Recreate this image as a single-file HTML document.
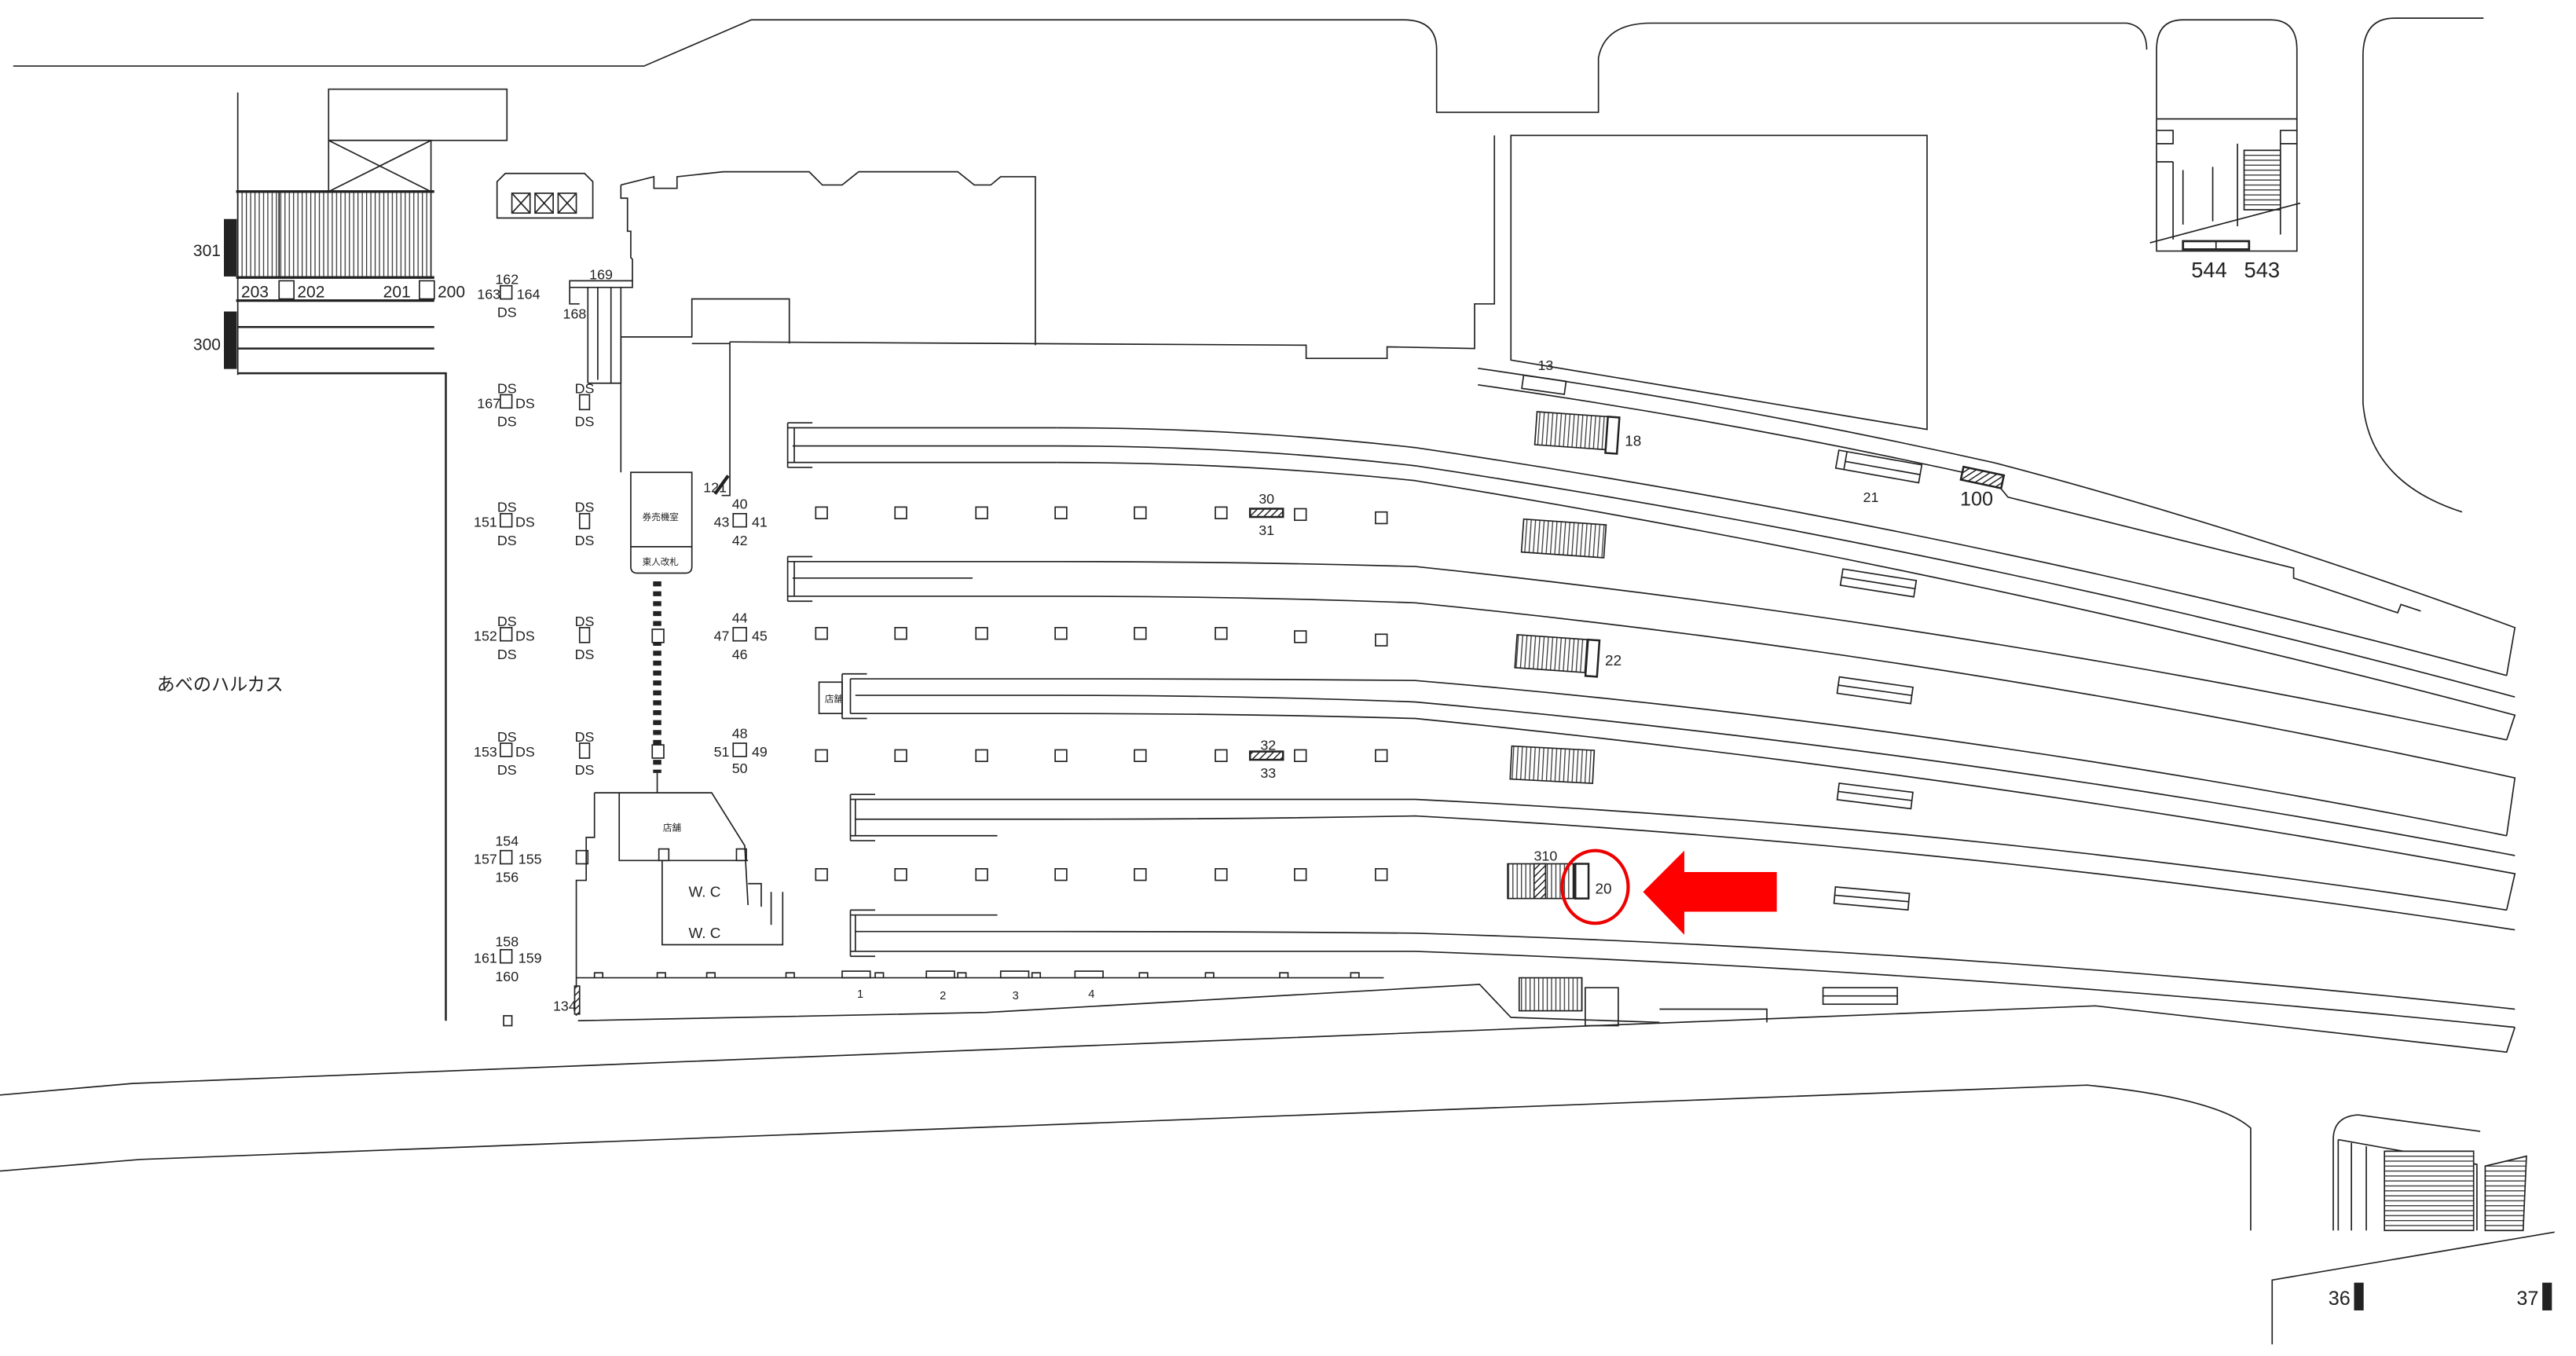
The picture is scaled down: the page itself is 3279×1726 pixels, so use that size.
<!DOCTYPE html>
<html><head><meta charset="utf-8"><style>
html,body{margin:0;padding:0;background:#fff;}
svg{display:block;}
text{font-family:"Liberation Sans","Noto Sans CJK JP",sans-serif;fill:#222;}
</style></head><body>
<svg width="3279" height="1726" viewBox="0 0 1560 821" preserveAspectRatio="none" xmlns="http://www.w3.org/2000/svg">
<defs>
<pattern id="hat" width="3" height="3" patternUnits="userSpaceOnUse" patternTransform="rotate(45)"><rect width="3" height="3" fill="#fff"/><line x1="0" y1="0" x2="0" y2="3" stroke="#222" stroke-width="1.4"/></pattern>
<pattern id="vst" width="2.6" height="10" patternUnits="userSpaceOnUse"><rect width="2.6" height="10" fill="#fff"/><line x1="1" y1="0" x2="1" y2="10" stroke="#333" stroke-width="0.6"/></pattern>
<pattern id="hst" width="10" height="3" patternUnits="userSpaceOnUse"><rect width="10" height="3" fill="#fff"/><line x1="0" y1="1" x2="10" y2="1" stroke="#333" stroke-width="0.6"/></pattern>
</defs>
<g fill="none" stroke="#222" stroke-width="0.8">
<!-- top outline -->
<path d="M8,40 L390,40 L455,12 L850,12 Q870,12 870,30 L870,68 L968,68 L968,35 Q972,14 1000,14 L1288,14 Q1300,16 1300,30"/>
<!-- top right box -->
<path d="M1306,152 L1306,30 Q1306,12 1322,12 L1375,12 Q1391,12 1391,30 L1391,152 Z"/>
<path d="M1306,72 L1391,72 M1306,79 h10 v8 h-10 M1391,79 h-10 v8 h10 M1306,98 h10 M1316,98 V145 M1355,87 v50 M1381,87 v55"/>
<rect x="1359" y="91" width="22" height="36" fill="url(#hst)"/>
<path d="M1302,147 L1393,123"/>
<path d="M1322,103 v33 M1340,101 v33"/>
<rect x="1322" y="146" width="40" height="5" stroke-width="1.3"/><line x1="1342" y1="146" x2="1342" y2="151"/>
<path d="M1504,11 L1450,11 Q1431,11 1431,34 L1431,244 Q1435,292 1491,310"/>
<!-- left structure -->
<path d="M144,56 L144,227"/>
<rect x="199" y="54" width="108" height="31"/>
<rect x="199" y="85" width="62" height="31"/>
<path d="M199,85 L261,116 M261,85 L199,116"/>
<rect x="144" y="116" width="117" height="52" fill="url(#vst)"/>
<line x1="169" y1="116" x2="169" y2="168"/>
<path d="M143,116 H263 M143,168 H263 M143,182 H263" stroke-width="1.6"/>
<path d="M144,198 H263 M144,211 H263 M144,226 H270 V618" stroke-width="1.2"/>
<rect x="169" y="170" width="9" height="11"/><rect x="254" y="170" width="9" height="11"/>
<rect x="136" y="133" width="7" height="34" fill="#222"/><rect x="136" y="189" width="7" height="34" fill="#222"/>
<!-- EV box -->
<path d="M301,132 V110 L306,105 H354 L359,110 V132 Z"/>
<rect x="310" y="117" width="11" height="12"/><rect x="324" y="117" width="11" height="12"/><rect x="338" y="117" width="11" height="12"/>
<path d="M310,117 l11,12 M321,117 l-11,12 M324,117 l11,12 M335,117 l-11,12 M338,117 l11,12 M349,117 l-11,12"/>
<!-- center building -->
<path d="M376,112 L376,120 L380,120 L380,140 L382,140 L382,156 L383,157 L383,170"/>
<path d="M376,112 L396,107 L396,114 L410,114 L410,107 L438,104 L490,104 L498,112 L510,112 L520,104 L580,104 L590,112 L600,112 L606,107 L627,107 L627,209"/>
<path d="M345,170 H383 V174 H345 Z M345,174 V184 H351"/>
<path d="M356,174 V232 M362,174 V230 M370,174 V232 M376,174 V232 M356,232 H376"/>
<path d="M376,204 H419 V181 H478 V208 M376,204 V286 M442,207 V300 L437,300 M419,208 H442"/>
<path d="M442,207 L791,209 L791,217 L840,217 L840,210 L893,211 L893,184 L905,184 L905,82"/>
<path d="M915,82 H1167 V260 L915,218 Z"/>
<!-- gate block -->
<path d="M382,286 H419 V343 Q419,347 415,347 H386 Q382,347 382,343 Z M382,331 H419"/>
<line x1="433" y1="299" x2="441" y2="288" stroke-width="2"/>
<line x1="398" y1="352" x2="398" y2="468" stroke-width="5" stroke-dasharray="3,3"/>
<rect x="395" y="381" width="7" height="8" fill="#fff"/><rect x="395" y="451" width="7" height="8" fill="#fff"/>
<line x1="398" y1="468" x2="398" y2="480"/>
<!-- shop / WC -->
<path d="M360,480 H431 L451,512 L453,548 M360,480 V507 H355 V533 H349 V615 M375,480 V521 H453 M401,521 V572 H474 V540 M453,535 h8 v14 M467,540 v20"/>
<rect x="349" y="515" width="7" height="8"/><rect x="399" y="514" width="6" height="7"/><rect x="446" y="514" width="6" height="7"/>
<!-- platform edge bottom -->
<path d="M349,592 H838"/>
<path d="M360,592 v-3 h5 v3 M398,592 v-3 h5 v3 M428,592 v-3 h5 v3 M476,592 v-3 h5 v3 M530,592 v-3 h5 v3 M580,592 v-3 h5 v3 M625,592 v-3 h5 v3 M690,592 v-3 h5 v3 M730,592 v-3 h5 v3 M775,592 v-3 h5 v3 M818,592 v-3 h5 v3"/>
<rect x="510" y="588" width="17" height="4"/><rect x="561" y="588" width="17" height="4"/><rect x="606" y="588" width="17" height="4"/><rect x="651" y="588" width="17" height="4"/>
<rect x="348" y="597" width="3" height="17" fill="url(#hat)"/>
<path d="M350,618 L597,613 L896,596 L915,616 L1005,619 M960,598 H980 V621 H960 Z M1005,611 H1070 V619"/>
<rect x="920" y="592" width="38" height="20" fill="url(#vst)"/>
<rect x="1104" y="598" width="45" height="10"/><line x1="1104" y1="603" x2="1149" y2="603"/>
<!-- road -->
<path d="M0,663 L80,656 L1269,609 L1518,637 L1523,622"/>
<path d="M0,709 L85,702 L1264,657 Q1343,665 1363,683 L1363,745"/>
<path d="M1376,814 L1376,775 L1547,746"/>
<path d="M1413,745 V690 Q1413,676 1428,675 L1502,685 M1416,690 L1500,705 V745 M1416,690 V745 M1424,692 V745 M1433,694 V745"/>
<rect x="1444" y="697" width="54" height="48" fill="url(#hst)"/>
<path d="M1505,706 L1530,700 L1528,745 L1505,745 Z" fill="url(#hst)"/>
<rect x="1426" y="777" width="5" height="16" fill="#222"/><rect x="1540" y="777" width="5" height="16" fill="#222"/>
<!-- top platform wall -->
<path d="M895,223 Q1050,245 1207,280 Q1360,320 1523,380 L1518,409"/>
<path d="M895,233 Q1050,255 1207,290 L1216,301 L1389,344 L1389,350 L1452,371 L1454,366 L1466,370"/>
<rect x="922" y="229" width="26" height="8" transform="rotate(8 935 233)"/>
<!-- tracks -->
<path d="M640,259 Q750,259 857,271 Q1190,320 1518,409"/>
<path d="M480,270 L640,270 Q750,270 857,282 Q1190,332 1523,422"/>
<path d="M640,280 Q750,280 857,291 Q1190,345 1523,433 L1518,448"/>
<path d="M477,259 H640 M477,280 H640 M477,256 V283 M477,256 H492 M477,283 H492 M481,259 V280"/>
<path d="M477,340 H640 Q750,340 857,343 Q1190,378 1518,448"/>
<path d="M480,350 H589"/>
<path d="M477,361 H640 Q750,361 857,365 Q1190,398 1523,471 L1518,506"/>
<path d="M477,337 V364 M477,337 H492 M477,364 H492 M481,340 V361"/>
<path d="M515,411 H640 Q750,411 857,412 Q1190,440 1518,506"/>
<path d="M518,421 H640 Q750,421 857,425 Q1190,455 1523,518"/>
<path d="M515,432 H640 Q750,432 857,435 Q1190,468 1523,529 L1518,551"/>
<path d="M510,408 V435 M510,408 H525 M510,435 H525 M515,411 V432"/>
<rect x="496" y="413" width="14" height="19"/>
<path d="M515,484 H640 Q750,484 857,484 Q1190,500 1518,551"/>
<path d="M518,496 H640 Q750,496 857,494 Q1190,512 1523,563"/>
<path d="M515,506 H604"/>
<path d="M515,481 V509 M515,481 H530 M515,509 H530 M518,484 V506"/>
<path d="M515,554 H604"/>
<path d="M518,564 H640 Q750,564 857,565 Q1190,575 1523,611"/>
<path d="M515,576 H640 Q750,576 857,576 Q1190,588 1523,622"/>
<path d="M515,551 V579 M515,551 H530 M515,579 H530 M518,554 V576"/>
<!-- columns -->
<g>
<rect x="494" y="307" width="7" height="7"/><rect x="542" y="307" width="7" height="7"/><rect x="591" y="307" width="7" height="7"/><rect x="639" y="307" width="7" height="7"/><rect x="687" y="307" width="7" height="7"/><rect x="736" y="307" width="7" height="7"/><rect x="784" y="308" width="7" height="7"/><rect x="833" y="310" width="7" height="7"/>
<rect x="494" y="380" width="7" height="7"/><rect x="542" y="380" width="7" height="7"/><rect x="591" y="380" width="7" height="7"/><rect x="639" y="380" width="7" height="7"/><rect x="687" y="380" width="7" height="7"/><rect x="736" y="380" width="7" height="7"/><rect x="784" y="382" width="7" height="7"/><rect x="833" y="384" width="7" height="7"/>
<rect x="494" y="454" width="7" height="7"/><rect x="542" y="454" width="7" height="7"/><rect x="591" y="454" width="7" height="7"/><rect x="639" y="454" width="7" height="7"/><rect x="687" y="454" width="7" height="7"/><rect x="736" y="454" width="7" height="7"/><rect x="784" y="454" width="7" height="7"/><rect x="833" y="454" width="7" height="7"/>
<rect x="494" y="526" width="7" height="7"/><rect x="542" y="526" width="7" height="7"/><rect x="591" y="526" width="7" height="7"/><rect x="639" y="526" width="7" height="7"/><rect x="687" y="526" width="7" height="7"/><rect x="736" y="526" width="7" height="7"/><rect x="784" y="526" width="7" height="7"/><rect x="833" y="526" width="7" height="7"/>
</g>
<rect x="757" y="308" width="20" height="5" fill="url(#hat)" stroke-width="1.2"/>
<rect x="757" y="455" width="20" height="5" fill="url(#hat)" stroke-width="1.2"/>
<!-- small posts -->
<g>
<rect x="303" y="173" width="7" height="8"/><rect x="303" y="239" width="7" height="8"/><rect x="303" y="311" width="7" height="8"/><rect x="303" y="380" width="7" height="8"/><rect x="303" y="450" width="7" height="8"/><rect x="303" y="515" width="7" height="8"/><rect x="303" y="575" width="7" height="8"/><rect x="305" y="615" width="5" height="6"/>
<rect x="351" y="239" width="6" height="9"/><rect x="351" y="311" width="6" height="9"/><rect x="351" y="380" width="6" height="9"/><rect x="351" y="450" width="6" height="9"/>
<rect x="444" y="311" width="8" height="8"/><rect x="444" y="380" width="8" height="8"/><rect x="444" y="450" width="8" height="8"/>
</g>
<!-- stairs right -->
<g transform="rotate(4 955 262)"><rect x="930" y="251" width="43" height="20" fill="url(#vst)"/><rect x="973" y="251" width="7" height="22" stroke-width="1.2"/></g>
<rect x="922" y="316" width="50" height="20" fill="url(#vst)" transform="rotate(4 947 326)"/>
<g transform="rotate(4 943 396)"><rect x="918" y="386" width="43" height="20" fill="url(#vst)"/><rect x="961" y="386" width="7" height="22" stroke-width="1.2"/></g>
<rect x="915" y="453" width="50" height="20" fill="url(#vst)" transform="rotate(3 940 463)"/>
<rect x="913" y="523" width="40" height="21" fill="url(#vst)"/>
<rect x="929" y="523" width="7" height="21" fill="url(#hat)"/>
<rect x="954" y="523" width="8" height="21" stroke-width="1.2"/>
<!-- benches -->
<g transform="rotate(10 1138 284)"><rect x="1112" y="277" width="51" height="11"/><line x1="1117" y1="277" x2="1117" y2="288"/><line x1="1117" y1="283" x2="1163" y2="283"/></g>
<g transform="rotate(9 1138 353)"><rect x="1115" y="348" width="45" height="10"/><line x1="1115" y1="353" x2="1160" y2="353"/></g>
<g transform="rotate(8 1136 418)"><rect x="1113" y="413" width="45" height="10"/><line x1="1113" y1="418" x2="1158" y2="418"/></g>
<g transform="rotate(7 1136 482)"><rect x="1113" y="477" width="45" height="10"/><line x1="1113" y1="482" x2="1158" y2="482"/></g>
<g transform="rotate(5 1134 544)"><rect x="1111" y="539" width="45" height="10"/><line x1="1111" y1="544" x2="1156" y2="544"/></g>
<rect x="1188" y="285" width="25" height="8" fill="url(#hat)" stroke-width="1.2" transform="rotate(12 1200 289)"/>
</g>
<!-- red marker -->
<ellipse cx="966" cy="537" rx="20" ry="22" fill="none" stroke="#e00" stroke-width="2"/>
<path d="M995,540 L1020,515 L1020,528 L1076,528 L1076,552 L1020,552 L1020,566 Z" fill="#f00"/>
<!-- labels -->
<g font-size="10">
<text x="117" y="155">301</text><text x="117" y="212">300</text>
<text x="146" y="180" font-size="10">203</text><text x="180" y="180">202</text><text x="232" y="180">201</text><text x="265" y="180">200</text>
<text x="329" y="141" font-size="0"> </text>
</g>
<g font-size="8.5" text-anchor="middle">
<text x="307" y="172">162</text><text x="296" y="181">163</text><text x="320" y="181">164</text><text x="307" y="192">DS</text>
<text x="307" y="238">DS</text><text x="296" y="247">167</text><text x="318" y="247">DS</text><text x="307" y="258">DS</text>
<text x="307" y="310">DS</text><text x="294" y="319">151</text><text x="318" y="319">DS</text><text x="307" y="330">DS</text>
<text x="307" y="379">DS</text><text x="294" y="388">152</text><text x="318" y="388">DS</text><text x="307" y="399">DS</text>
<text x="307" y="449">DS</text><text x="294" y="458">153</text><text x="318" y="458">DS</text><text x="307" y="469">DS</text>
<text x="307" y="512">154</text><text x="294" y="523">157</text><text x="321" y="523">155</text><text x="307" y="534">156</text>
<text x="307" y="573">158</text><text x="294" y="583">161</text><text x="321" y="583">159</text><text x="307" y="594">160</text>
<text x="354" y="238">DS</text><text x="354" y="258">DS</text>
<text x="354" y="310">DS</text><text x="354" y="330">DS</text>
<text x="354" y="379">DS</text><text x="354" y="399">DS</text>
<text x="354" y="449">DS</text><text x="354" y="469">DS</text>
<text x="448" y="308">40</text><text x="437" y="319">43</text><text x="460" y="319">41</text><text x="448" y="330">42</text>
<text x="448" y="377">44</text><text x="437" y="388">47</text><text x="460" y="388">45</text><text x="448" y="399">46</text>
<text x="448" y="447">48</text><text x="437" y="458">51</text><text x="460" y="458">49</text><text x="448" y="468">50</text>
<text x="364" y="169">169</text><text x="348" y="193">168</text><text x="433" y="298">121</text>
<text x="767" y="305">30</text><text x="767" y="324">31</text><text x="768" y="454">32</text><text x="768" y="471">33</text>
<text x="342" y="612">134</text>
<text x="521" y="604" font-size="7">1</text><text x="571" y="605" font-size="7">2</text><text x="615" y="605" font-size="7">3</text><text x="661" y="604" font-size="7">4</text>
<text x="936" y="224">13</text><text x="1133" y="304">21</text><text x="936" y="521">310</text>
</g>
<g font-size="9">
<text x="984" y="270">18</text><text x="972" y="403">22</text><text x="966" y="541">20</text>
</g>
<text x="1187" y="306" font-size="12">100</text>
<text x="1327" y="168" font-size="13">544</text><text x="1359" y="168" font-size="13">543</text>
<text x="1410" y="790" font-size="12">36</text><text x="1524" y="790" font-size="12">37</text>
<text x="95" y="418" font-size="11">あべのハルカス</text>
<g font-size="5.5" text-anchor="middle">
<text x="400" y="315">券売機室</text><text x="400" y="342">東人改札</text>
<text x="505" y="425">店舗</text><text x="407" y="503">店舗</text>
</g>
<g font-size="9"><text x="417" y="543">W.  C</text><text x="417" y="568">W.  C</text></g>
</svg>
</body></html>
